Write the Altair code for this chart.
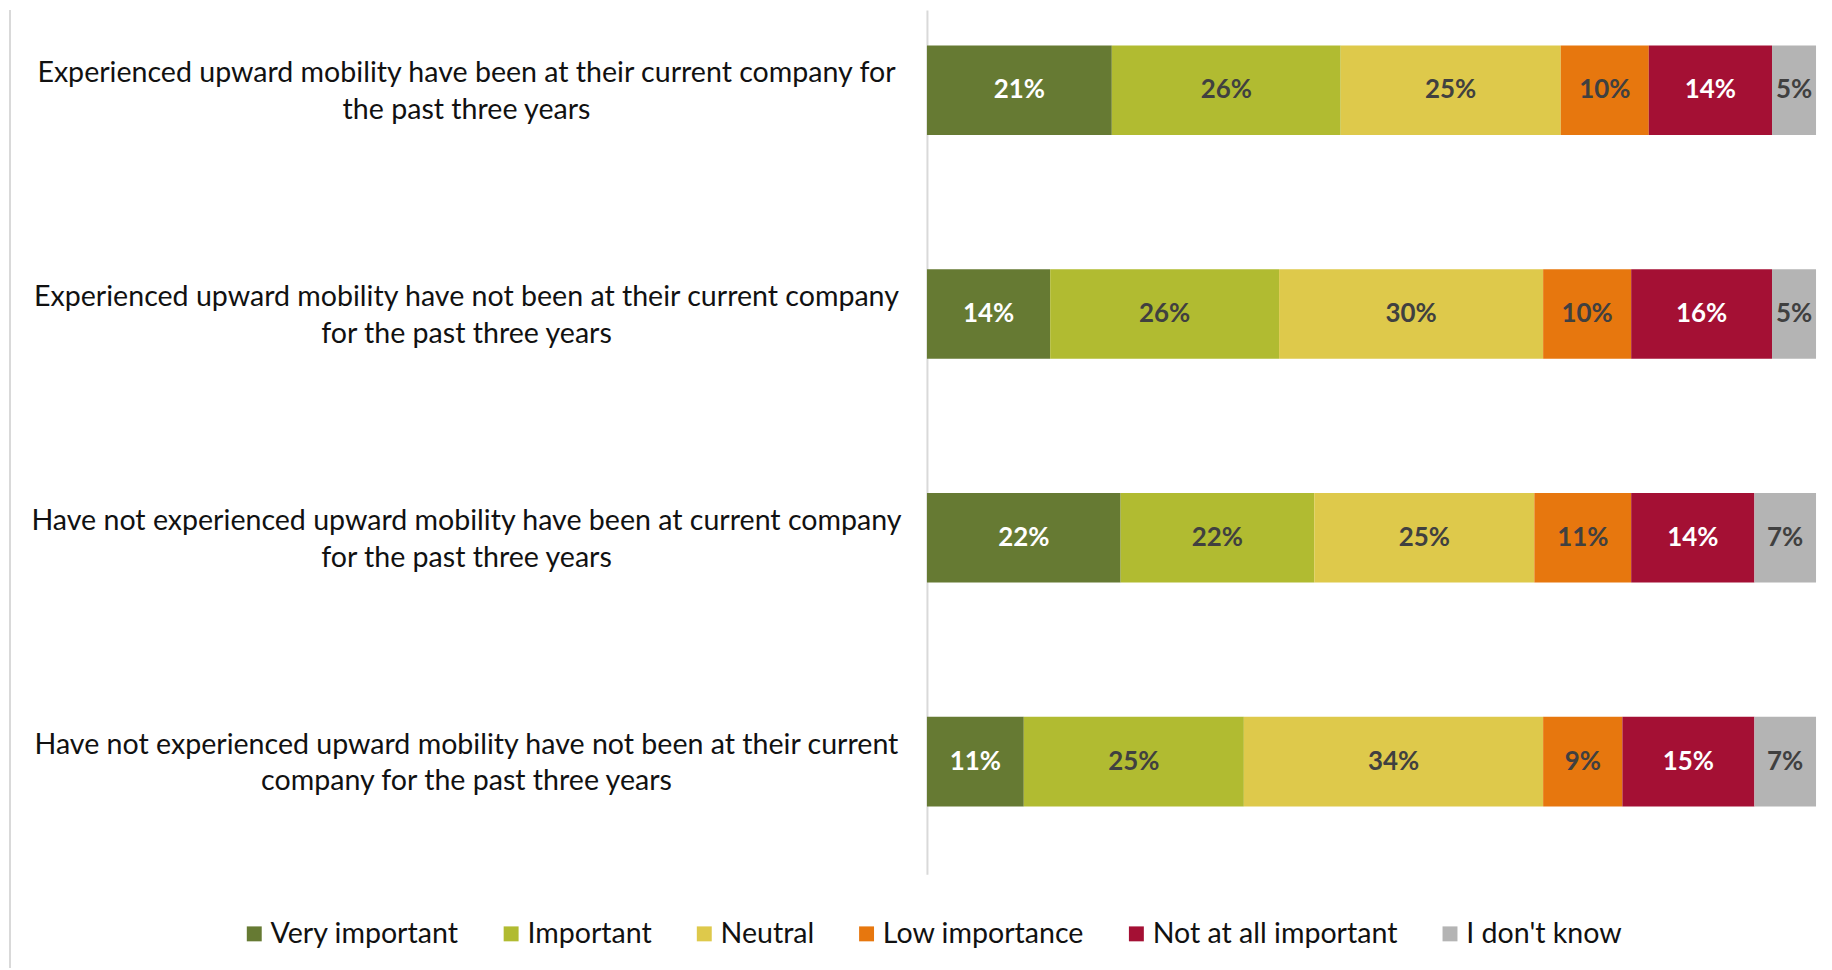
import altair as alt
import pandas as pd

categories = [
    "Experienced upward mobility have been at their current company for|the past three years",
    "Experienced upward mobility have not been at their current company|for the past three years",
    "Have not experienced upward mobility have been at current company|for the past three years",
    "Have not experienced upward mobility have not been at their current|company for the past three years",
]
series = ["Very important", "Important", "Neutral", "Low importance",
          "Not at all important", "I don't know"]
very_important = [21, 14, 22, 11]
important = [26, 26, 22, 25]
neutral = [25, 30, 25, 34]
low_importance = [10, 10, 11, 9]
not_at_all = [14, 16, 14, 15]
dont_know = [5, 5, 7, 7]
colors = ["#667A33", "#B1BB31", "#DEC94B", "#E7770E", "#A41034", "#B4B4B4"]

values = [very_important, important, neutral, low_importance, not_at_all, dont_know]
rows = []
for si, (s, vals) in enumerate(zip(series, values)):
    for c, v in zip(categories, vals):
        rows.append({"category": c, "series": s, "value": v, "ord": si})
df = pd.DataFrame(rows)

FONT = "Lato"

yenc = alt.Y(
    "category:N", sort=categories, title=None,
    scale=alt.Scale(paddingInner=0.6, paddingOuter=0.231, align=0.343),
    axis=alt.Axis(
        domain=True, domainColor="#d9d9d9", domainWidth=2, ticks=False,
        labelAlign="center", labelBaseline="middle", labelPadding=463,
        labelOffset=-17,
        labelFontSize=28.7, labelFont=FONT, labelColor="#111111",
        labelLineHeight=37, labelExpr="split(datum.label, '|')", labelLimit=1000,
    ),
)

base = alt.Chart(df)

bars = base.mark_bar().encode(
    y=yenc,
    x=alt.X("value:Q", stack="normalize", axis=None,
            scale=alt.Scale(domain=[0, 1], nice=False)),
    color=alt.Color(
        "series:N", sort=series,
        scale=alt.Scale(domain=series, range=colors),
        legend=alt.Legend(
            orient="none", legendX=-690, legendY=913, direction="horizontal",
            columns=6, title=None, symbolType="square", symbolSize=225,
            symbolStrokeWidth=0, labelFontSize=28.7, labelFont=FONT,
            labelColor="#111111", columnPadding=38, labelOffset=2,
            labelLimit=400,
        ),
    ),
    order=alt.Order("ord:Q"),
)

text = base.transform_joinaggregate(
    total="sum(value)", groupby=["category"]
).transform_window(
    cum="sum(value)", sort=[alt.SortField("ord")], groupby=["category"],
    frame=[None, 0]
).transform_calculate(
    mid="(datum.cum - datum.value / 2) / datum.total",
    lbl="datum.value + '%'",
).mark_text(fontSize=26, fontWeight="bold", font=FONT, baseline="middle").encode(
    y=alt.Y("category:N", sort=categories),
    x=alt.X("mid:Q", scale=alt.Scale(domain=[0, 1], nice=False)),
    text="lbl:N",
    color=alt.condition(
        "datum.series == 'Very important' || datum.series == 'Not at all important'",
        alt.value("white"), alt.value("#404040"),
    ),
)

border = alt.Chart(pd.DataFrame({"a": [0]})).mark_rule(
    color="#d9d9d9", strokeWidth=2
).encode(x=alt.value(-921), y=alt.value(0), y2=alt.value(962))

chart = alt.layer(border, bars, text).properties(
    width=893, height=868,
    autosize="none",
    padding={"left": 923, "top": 0, "right": 8, "bottom": 94},
).configure_view(stroke=None)

chart.save("out.html", embed_options={"renderer": "svg", "actions": False})
